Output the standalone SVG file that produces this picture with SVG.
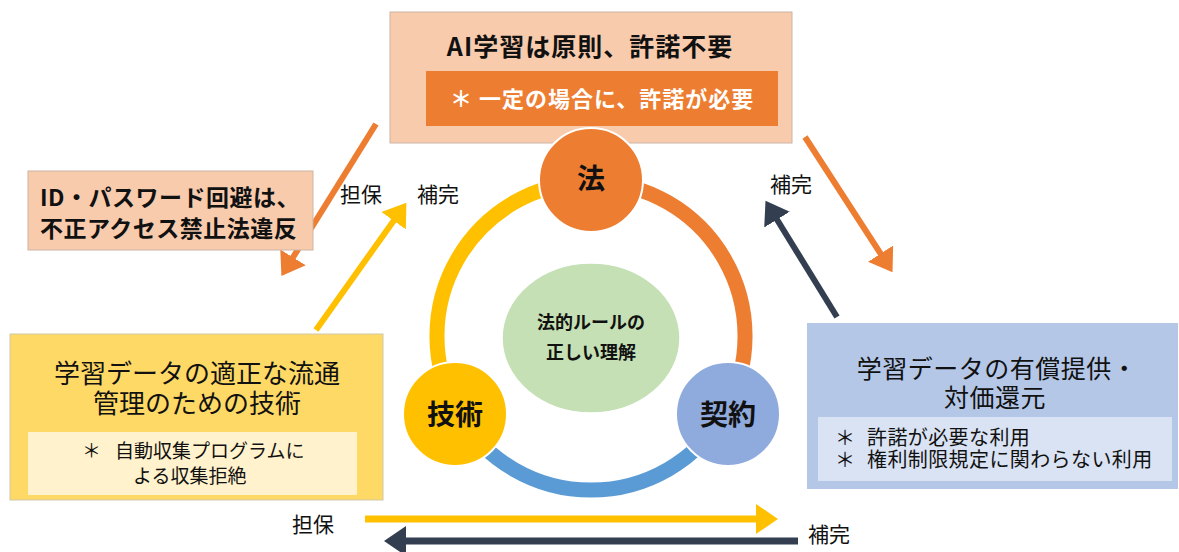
<svg xmlns="http://www.w3.org/2000/svg" width="1179" height="552" viewBox="0 0 1179 552">
<style>
text{font-family:"Noto Sans CJK JP","Noto Sans",sans-serif;fill:#111}
.b{font-weight:bold}
.lbl{font-size:21px}
.c{text-anchor:middle}
.ln{fill:none;stroke-width:6}
</style>
<defs>
<marker id="hO" markerUnits="userSpaceOnUse" markerWidth="30" markerHeight="34" viewBox="0 -17 30 34" refX="1" refY="0" orient="auto"><path d="M0,-15 L22,0 L0,15 z" fill="#ED7D31"/></marker>
<marker id="hY" markerUnits="userSpaceOnUse" markerWidth="30" markerHeight="34" viewBox="0 -17 30 34" refX="1" refY="0" orient="auto"><path d="M0,-15 L22,0 L0,15 z" fill="#FFC000"/></marker>
<marker id="hD" markerUnits="userSpaceOnUse" markerWidth="30" markerHeight="34" viewBox="0 -17 30 34" refX="1" refY="0" orient="auto"><path d="M0,-15 L22,0 L0,15 z" fill="#333F50"/></marker>
</defs>

<g id="ring">
<path d="M591,182 A154,154 0 0 0 457.6,413" fill="none" stroke="#FFC000" stroke-width="15"/>
<path d="M591,182 A154,154 0 0 1 724.4,413" fill="none" stroke="#ED7D31" stroke-width="15"/>
<path d="M724.4,413 A154,154 0 0 1 457.6,413" fill="none" stroke="#5B9BD5" stroke-width="15"/>
</g>

<g id="connectors">
<line class="ln" x1="376" y1="124" x2="292.5" y2="258.2" stroke="#ED7D31" marker-end="url(#hO)"/>
<line class="ln" x1="316" y1="330" x2="394.2" y2="219.9" stroke="#FFC000" marker-end="url(#hY)"/>
<line class="ln" x1="805" y1="137" x2="881.1" y2="254.5" stroke="#ED7D31" marker-end="url(#hO)"/>
<line class="ln" x1="837" y1="317" x2="776.5" y2="218.7" stroke="#333F50" marker-end="url(#hD)"/>
<line x1="365" y1="519" x2="757" y2="519" stroke="#FFC000" stroke-width="7" marker-end="url(#hY)"/>
<line x1="798" y1="541" x2="405" y2="541" stroke="#333F50" stroke-width="7" marker-end="url(#hD)"/>
<text class="lbl" x="340" y="202">担保</text>
<text class="lbl" x="417" y="202">補完</text>
<text class="lbl" x="770" y="192">補完</text>
<text class="lbl" x="292" y="532">担保</text>
<text class="lbl" x="808" y="542">補完</text>
</g>

<g id="top-box">
<rect x="390" y="12" width="402" height="131" fill="#F8CBAD" stroke="#cdb4a4" stroke-width="1"/>
<text class="b c" x="590" y="56" font-size="25" letter-spacing="1">AI学習は原則、許諾不要</text>
<rect x="426" y="71" width="352" height="55" fill="#ED7D31"/>
<text class="b" x="450" y="107" font-size="22" letter-spacing="1" style="fill:#fff">＊ 一定の場合に、許諾が必要</text>
</g>

<g id="id-box">
<rect x="28" y="171" width="285" height="79" fill="#F8CBAD" stroke="#cdb4a4" stroke-width="1"/>
<text class="b" x="40" y="206" font-size="23" letter-spacing="0.5">ID・パスワード回避は、</text>
<text class="b" x="40" y="237" font-size="23" letter-spacing="0.5">不正アクセス禁止法違反</text>
</g>

<g id="tech-box">
<rect x="10" y="334" width="373" height="166" fill="#FFD966" stroke="#d0c9a8" stroke-width="1"/>
<text class="c" x="197" y="383" font-size="26">学習データの適正な流通</text>
<text class="c" x="197" y="413" font-size="26">管理のための技術</text>
<rect x="28" y="432" width="329" height="63" fill="#FFF2CC"/>
<text x="82" y="458" font-size="19">＊</text>
<text x="115" y="458" font-size="19">自動収集プログラムに</text>
<text x="133" y="483" font-size="19">よる収集拒絶</text>
</g>

<g id="contract-box">
<rect x="807" y="323" width="371" height="166" fill="#B4C7E7"/>
<text class="c" x="997" y="378" font-size="25" letter-spacing="0.5">学習データの有償提供・</text>
<text class="c" x="995" y="407" font-size="25" letter-spacing="0.5">対価還元</text>
<rect x="818" y="417" width="354" height="64" fill="#DAE3F3"/>
<text x="835" y="445" font-size="20">＊</text>
<text x="867" y="445" font-size="20" letter-spacing="0.4">許諾が必要な利用</text>
<text x="835" y="467" font-size="20">＊</text>
<text x="867" y="467" font-size="20" letter-spacing="0.4">権利制限規定に関わらない利用</text>
</g>

<g id="center">
<ellipse cx="591" cy="338" rx="89" ry="75" fill="#C5E0B4" stroke="#fff" stroke-width="1.5"/>
<text class="b c" x="591" y="329" font-size="18">法的ルールの</text>
<text class="b c" x="591" y="359" font-size="18">正しい理解</text>
</g>

<g id="node-law">
<circle cx="591" cy="180" r="52" fill="#ED7D31" stroke="#fff" stroke-width="2"/>
<text class="b c" x="591" y="189" font-size="28">法</text>
</g>
<g id="node-tech">
<circle cx="455" cy="414" r="52" fill="#FFC000" stroke="#fff" stroke-width="2"/>
<text class="b c" x="455" y="425" font-size="28">技術</text>
</g>
<g id="node-contract">
<circle cx="728" cy="414" r="52" fill="#8FAADC" stroke="#fff" stroke-width="2"/>
<text class="b c" x="728" y="425" font-size="28">契約</text>
</g>
</svg>
